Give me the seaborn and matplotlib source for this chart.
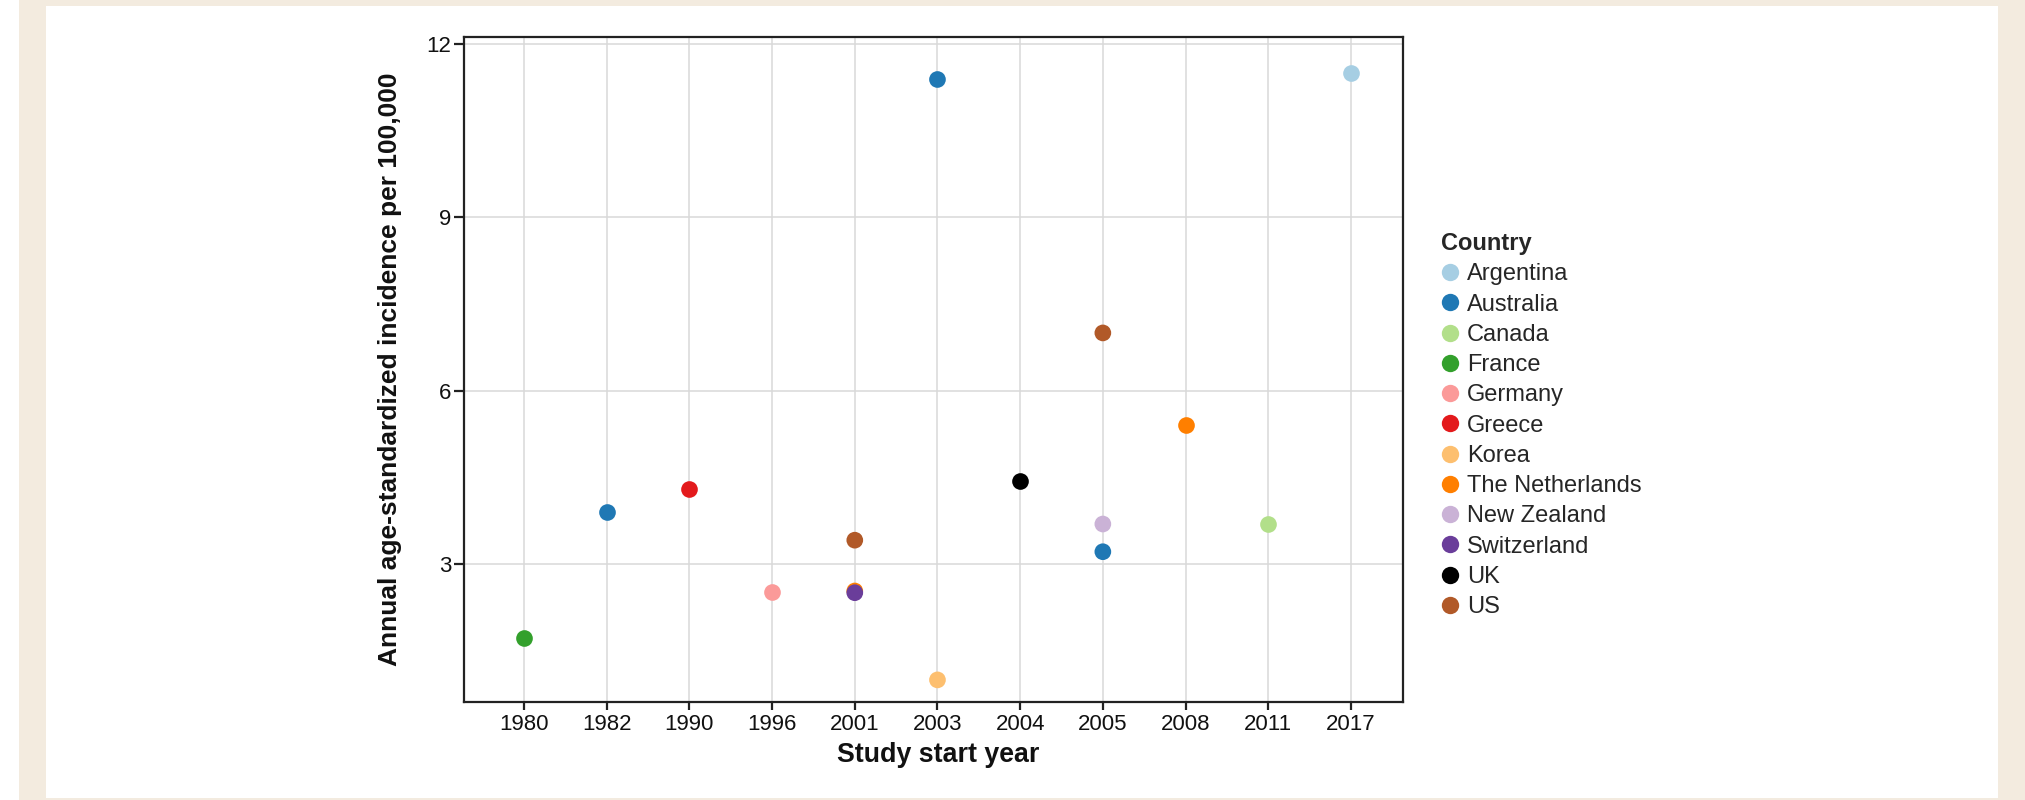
import matplotlib
matplotlib.use("Agg")
import matplotlib.pyplot as plt
from matplotlib.lines import Line2D
from matplotlib.patches import Rectangle
import seaborn as sns
import pandas as pd

# Study start years shown on the categorical x axis
years = ["1980", "1982", "1990", "1996", "2001", "2003", "2004", "2005", "2008", "2011", "2017"]

# One row per study
study_year = ["1980", "1982", "1990", "1996", "2001", "2001", "2001", "2003", "2003",
              "2004", "2005", "2005", "2005", "2008", "2011", "2017"]
study_country = ["France", "Australia", "Greece", "Germany", "The Netherlands", "Switzerland", "US",
                 "Australia", "Korea", "UK", "Australia", "New Zealand", "US", "The Netherlands",
                 "Canada", "Argentina"]
incidence = [1.71, 3.89, 4.29, 2.51, 2.53, 2.50, 3.41, 11.39, 0.99,
             4.44, 3.21, 3.69, 7.00, 5.40, 3.69, 11.51]

countries = ["Argentina", "Australia", "Canada", "France", "Germany", "Greece", "Korea",
             "The Netherlands", "New Zealand", "Switzerland", "UK", "US"]
country_colors = ["#a6cee3", "#1f78b4", "#b2df8a", "#33a02c", "#fb9a99", "#e31a1c", "#fdbf6f",
                  "#ff7f00", "#cab2d6", "#6a3d9a", "#000000", "#b15928"]

y_ticks = [3, 6, 9, 12]

df = pd.DataFrame({"year": study_year, "country": study_country, "incidence": incidence})
palette = dict(zip(countries, country_colors))

sns.set_theme(style="white")
plt.rcParams["font.family"] = ["Liberation Sans", "DejaVu Sans"]

fig = plt.figure(figsize=(20.25, 8), dpi=100, facecolor="white")

# Page frame: beige band with a white panel on top
fig.patches.append(Rectangle((19 / 2025, 0), 1 - 19 / 2025, 1, transform=fig.transFigure,
                             facecolor="#f3ebdf", edgecolor="none", zorder=-2))
fig.patches.append(Rectangle((46 / 2025, 2 / 800), (1998 - 46) / 2025, (798 - 6) / 800,
                             transform=fig.transFigure, facecolor="white", edgecolor="none", zorder=-1))

ax = fig.add_axes([464 / 2025, 98 / 800, (1403 - 464) / 2025, (702 - 37) / 800])

sns.stripplot(data=df, x="year", y="incidence", hue="country", order=years,
              hue_order=countries, palette=palette, jitter=False, size=12,
              linewidth=0, legend=False, ax=ax, zorder=3)

ax.set_xlim(-0.726, 10.63)
ax.set_ylim(0.607, 12.126)
ax.set_yticks(y_ticks)
ax.set_yticklabels([str(v) for v in y_ticks])

ax.grid(True, color="#d9d9d9", linewidth=1.1)
ax.set_axisbelow(True)
for s in ax.spines.values():
    s.set_color("#222222")
    s.set_linewidth(1.6)

ax.tick_params(axis="x", length=5.5, width=1.6, color="#222222", labelsize=16, pad=3,
               bottom=True, labelcolor="#111111")
ax.tick_params(axis="y", length=7, width=1.6, color="#222222", labelsize=16, pad=2,
               left=True, labelcolor="#111111")

ax.set_xlabel("Study start year", fontsize=19.3, fontweight="bold", color="#111111", labelpad=5)
ax.set_ylabel("Annual age-standardized incidence per 100,000", fontsize=19,
              fontweight="bold", color="#111111", labelpad=18)

# nudge the x-axis title slightly right of centre
xl = ax.xaxis.label
fig.canvas.draw()
pos = xl.get_position()
xl.set_position((pos[0] + 0.0055, pos[1]))

handles = [Line2D([0], [0], marker="o", linestyle="none", markersize=12.5,
                  markerfacecolor=c, markeredgewidth=0) for c in country_colors]
leg = fig.legend(handles, countries, loc="upper left",
                 bbox_to_anchor=(1441 / 2025, 1 - 232 / 800), frameon=False,
                 title="Country", fontsize=17, title_fontproperties={"weight": "bold", "size": 17},
                 alignment="left", handlelength=0.75, handletextpad=0.35,
                 labelspacing=0.35, borderpad=0, borderaxespad=0)

fig.savefig("out.png", dpi=100, facecolor=fig.get_facecolor())
